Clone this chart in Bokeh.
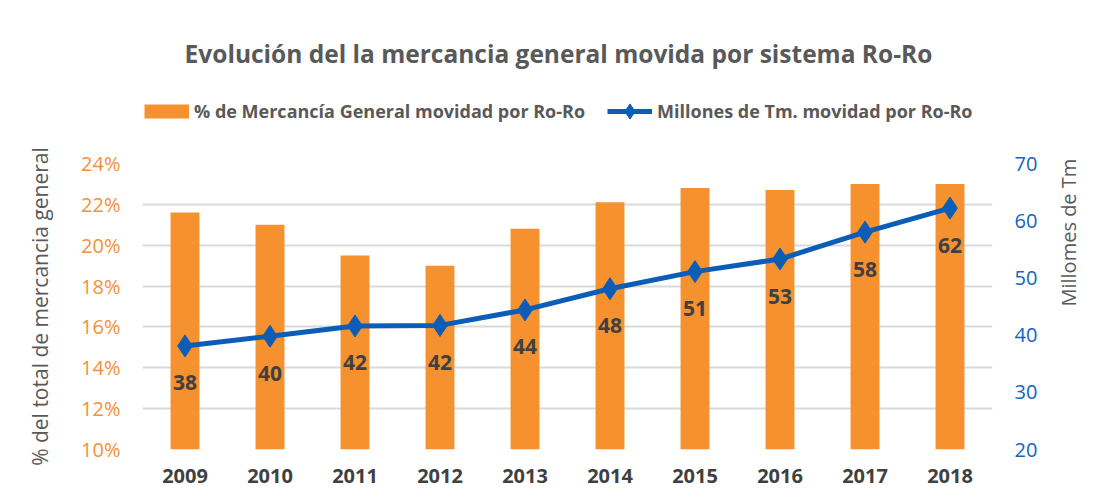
import math
from bokeh.plotting import figure
from bokeh.layouts import column
from bokeh.models import (FactorRange, Range1d, LinearAxis, Legend, LegendItem,
                          Label, FixedTicker, PrintfTickFormatter, ColumnDataSource)
from bokeh.core.properties import value
from bokeh.embed import file_html
from bokeh.resources import INLINE

years = ["2009", "2010", "2011", "2012", "2013", "2014", "2015", "2016", "2017", "2018"]
pct_general = [21.6, 21.0, 19.5, 19.0, 20.8, 22.1, 22.8, 22.7, 23.0, 23.0]
mill_tm = [38.1, 39.8, 41.6, 41.7, 44.4, 48.1, 51.1, 53.3, 58.0, 62.2]
tm_labels = ["38", "40", "42", "42", "44", "48", "51", "53", "58", "62"]
left_ticks = [10, 12, 14, 16, 18, 20, 22, 24]
right_ticks = [20, 30, 40, 50, 60, 70]

title_text = "Evolución del la mercancia general movida por sistema Ro-Ro"
bar_name = "% de Mercancía General movidad por Ro-Ro"
line_name = "Millones de Tm. movidad por Ro-Ro"
left_title = "% del total de mercancia general"
right_title = "Millomes de Tm"

FONT = "Open Sans"
ORANGE = "#F5912F"
BLUE = "#0B5DB7"
GRAY = "#595959"
DARK = "#404040"

W = 1099
HEAD_H = 148
FR_L, FR_R = 142, 992   # frame edges on the page (head frame is aligned to these)

# ---------- header: title + legend ----------
head = figure(width=W, height=HEAD_H, x_range=Range1d(FR_L, FR_R),
              y_range=Range1d(HEAD_H, 0), x_axis_type=None, y_axis_type=None,
              output_backend="svg", toolbar_location=None, min_border=0)
head.outline_line_color = None
head.add_layout(Label(x=558, y=53, text=title_text, text_align="center",
                      text_baseline="middle", text_font=FONT, text_font_size="24.5px",
                      text_font_style="bold", text_color=GRAY))
# legend sample glyphs (kept outside the visible range; only used by the legend)
lg_box = head.line(x=[-5000, -4990], y=[-5000, -5000], line_color=ORANGE,
                   line_width=14, line_cap="butt")
lg_line = head.line(x=[-5000, -4990], y=[-5000, -5000], line_color=BLUE, line_width=5)
lg_mark = head.scatter(x=[-5000], y=[-5000], marker="diamond", size=20,
                       fill_color=BLUE, line_color=BLUE)
legend = Legend(items=[LegendItem(label=bar_name, renderers=[lg_box]),
                       LegendItem(label=line_name, renderers=[lg_line, lg_mark])],
                orientation="horizontal", location=(2, 18),
                glyph_width=45, glyph_height=38, label_standoff=5, spacing=22,
                padding=0, margin=0, border_line_color=None,
                background_fill_alpha=0,
                label_text_font=FONT, label_text_font_size="18px",
                label_text_font_style="bold", label_text_color=GRAY)
head.add_layout(legend, "center")

# ---------- main chart ----------
src = ColumnDataSource(dict(year=years, pct=pct_general, tm=mill_tm, lab=tm_labels,
                            base=[10] * len(years)))

p = figure(width=W, height=501 - HEAD_H, x_range=FactorRange(*years, range_padding=0),
           y_range=Range1d(10, 24), output_backend="svg", toolbar_location=None,
           min_border_left=FR_L, min_border_right=W - FR_R, min_border_top=15,
           min_border_bottom=52)
p.outline_line_color = None
p.extra_y_ranges = {"tm": Range1d(20, 70)}

p.vbar(x="year", top="pct", bottom="base", width=0.34, source=src,
       fill_color=ORANGE, line_color=None)
p.line(x="year", y="tm", source=src, y_range_name="tm", line_color=BLUE, line_width=5)
p.scatter(x="year", y="tm", source=src, y_range_name="tm", marker="diamond",
          size=22, fill_color=BLUE, line_color=BLUE)
p.text(x="year", y="tm", text="lab", source=src, y_range_name="tm",
       text_align="center", text_baseline="middle", y_offset=37,
       text_font=value(FONT), text_font_size="21px", text_font_style="bold",
       text_color=DARK)

p.xgrid.grid_line_color = None
p.ygrid.grid_line_color = "#D9D9D9"
p.ygrid.grid_line_width = 2
p.ygrid.ticker = FixedTicker(ticks=left_ticks)

ly = p.yaxis[0]
ly.ticker = FixedTicker(ticks=left_ticks)
ly.formatter = PrintfTickFormatter(format="%d%%")
ly.axis_line_color = None
ly.major_tick_line_color = None
ly.minor_tick_line_color = None
ly.major_tick_out = 0
ly.major_label_standoff = 22
ly.major_label_text_font = FONT
ly.major_label_text_font_size = "20px"
ly.major_label_text_color = "#F4913A"
ly.axis_label = left_title
ly.axis_label_standoff = 24
ly.axis_label_text_font = FONT
ly.axis_label_text_font_size = "21px"
ly.axis_label_text_font_style = "normal"
ly.axis_label_text_color = GRAY

ry = LinearAxis(y_range_name="tm", ticker=FixedTicker(ticks=right_ticks))
ry.axis_line_color = None
ry.major_tick_line_color = None
ry.minor_tick_line_color = None
ry.major_tick_out = 0
ry.major_label_standoff = 22
ry.major_label_text_font = FONT
ry.major_label_text_font_size = "20px"
ry.major_label_text_color = "#1463C2"
ry.axis_label = right_title
ry.axis_label_orientation = math.pi / 2
ry.axis_label_standoff = 28
ry.axis_label_text_font = FONT
ry.axis_label_text_font_size = "20px"
ry.axis_label_text_font_style = "normal"
ry.axis_label_text_color = GRAY
p.add_layout(ry, "right")

xa = p.xaxis[0]
xa.axis_line_color = None
xa.major_tick_line_color = None
xa.major_tick_out = 0
xa.major_label_standoff = 19
xa.major_label_text_font = FONT
xa.major_label_text_font_size = "20px"
xa.major_label_text_font_style = "bold"
xa.major_label_text_color = DARK

layout = column(head, p, spacing=0)
open("out.html", "w").write(file_html(layout, INLINE))
